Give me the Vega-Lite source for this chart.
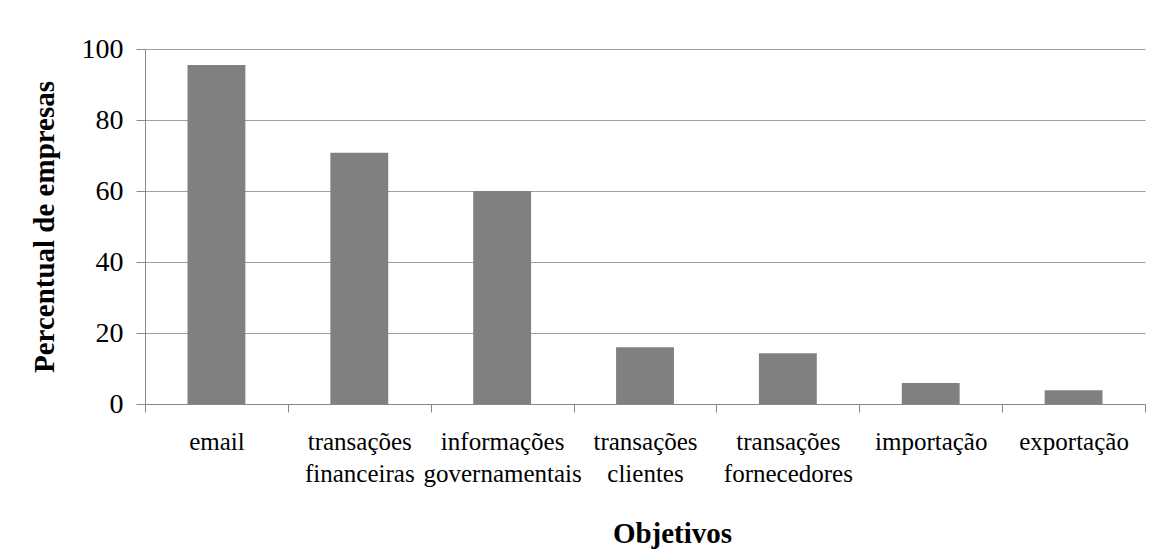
{
  "$schema": "https://vega.github.io/schema/vega-lite/v6.json",
  "width": 1000,
  "height": 355,
  "autosize": "none",
  "padding": {"left": 145, "top": 49, "right": 17, "bottom": 150},
  "background": "white",
  "data": {
    "values": [
      {"objetivo": "email", "percentual": 95.5},
      {"objetivo": "transações financeiras", "percentual": 70.8},
      {"objetivo": "informações governamentais", "percentual": 60},
      {"objetivo": "transações clientes", "percentual": 16},
      {"objetivo": "transações fornecedores", "percentual": 14.3},
      {"objetivo": "importação", "percentual": 5.9},
      {"objetivo": "exportação", "percentual": 3.9}
    ]
  },
  "mark": {"type": "bar", "color": "#808080", "width": {"band": 0.405}},
  "encoding": {
    "x": {
      "field": "objetivo",
      "type": "nominal",
      "sort": null,
      "scale": {"paddingInner": 0, "paddingOuter": 0},
      "axis": {
        "title": "Objetivos",
        "labelAngle": 0,
        "labelExpr": "split(datum.label, ' ')",
        "labelFont": "Liberation Serif",
        "labelFontSize": 25,
        "labelColor": "black",
        "labelLineHeight": 32,
        "labelPadding": 17,
        "tickBand": "extent",
        "tickSize": 8,
        "tickColor": "#888888",
        "domainColor": "#888888",
        "titleFont": "Liberation Serif",
        "titleFontSize": 29,
        "titleFontWeight": "bold",
        "titleColor": "black",
        "titlePadding": 33,
        "titleX": 527
      }
    },
    "y": {
      "field": "percentual",
      "type": "quantitative",
      "scale": {"domain": [0, 100]},
      "axis": {
        "title": "Percentual de empresas",
        "values": [0, 20, 40, 60, 80, 100],
        "labelFont": "Liberation Serif",
        "labelFontSize": 28,
        "labelColor": "black",
        "labelPadding": 13,
        "tickSize": 9,
        "tickColor": "#888888",
        "domainColor": "#888888",
        "gridColor": "#a0a0a0",
        "titleFont": "Liberation Serif",
        "titleFontSize": 29,
        "titleFontWeight": "bold",
        "titleColor": "black",
        "titlePadding": 22
      }
    }
  },
  "config": {"font": "Liberation Serif", "view": {"stroke": null}}
}
